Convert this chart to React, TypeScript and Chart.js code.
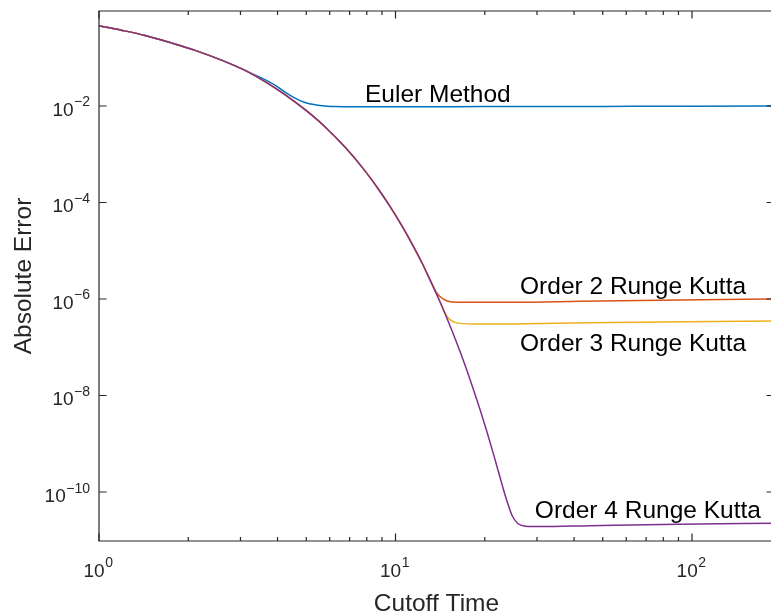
import React, { useEffect, useRef } from "react";
import { Chart, registerables } from "chart.js";

Chart.register(...registerables);

// ---- data ----
const sharedT = [1, 1.2, 1.43, 1.75, 2.11, 2.6, 3.11];
const sharedErr = [0.46, 0.368, 0.289, 0.203, 0.142, 0.088, 0.0545];

const eulerT = [3.5, 3.92, 4.25, 4.58, 4.95, 5.4, 5.78, 6.25, 7.5, 10, 20, 50, 100, 189];
const eulerErr = [0.039, 0.0272, 0.0191, 0.0146, 0.0118, 0.0105, 0.01, 0.0097, 0.0096, 0.0096, 0.0097, 0.0098, 0.0099, 0.01];

const steepT = [3.5, 3.92, 4.58, 5.2, 5.78, 6.8, 7.77, 8.7, 9.58, 10.5, 11.45, 12.3, 13.07];
const steepErr = [0.0365, 0.0238, 0.0122, 0.0066, 3.7e-3, 1.34e-3, 5.1e-4, 2.0e-4, 8.3e-5, 3.3e-5, 1.28e-5, 5.5e-6, 2.5e-6];

const rk2T = [13.8, 14.5, 15.3, 16.9, 25, 42, 91, 189];
const rk2Err = [1.32e-6, 9.9e-7, 8.8e-7, 8.55e-7, 8.55e-7, 8.96e-7, 9.53e-7, 1.0e-6];

const rk3T = [14.1, 14.9, 15.3, 16.1, 18.25, 25, 45, 189];
const rk3Err = [9.2e-7, 4.4e-7, 3.7e-7, 3.2e-7, 3.03e-7, 3.05e-7, 3.23e-7, 3.5e-7];

const rk4T = [14.0, 14.93, 16.12, 17.2, 18.25, 19.3, 20.35, 21.4, 22.5, 23.2, 23.8, 24.7, 25.9, 27.5, 31, 45, 90, 189];
const rk4Err = [9.9e-7, 3.9e-7, 1.2e-7, 4.1e-8, 1.42e-8, 5.0e-9, 1.75e-9, 6.1e-10, 2.05e-10, 1.05e-10, 6.3e-11, 3.3e-11, 2.2e-11, 1.95e-11, 1.92e-11, 2.0e-11, 2.15e-11, 2.25e-11];

const seriesNames = ["Euler Method", "Order 2 Runge Kutta", "Order 3 Runge Kutta", "Order 4 Runge Kutta"];
const seriesColors = ["#0072BD", "#D95319", "#EDB120", "#7E2F8E"];

// label anchors (data coords, left/baseline)
const labelT = [7.89, 26.3, 26.3, 29.5];
const labelErr = [0.0121, 1.24e-6, 8.36e-8, 2.89e-11];

const xMin = 1;
const xMax = 189;
const yMin = 9.65e-12;
const yMax = 0.93;
const xDecades = [0, 1, 2];
const yTickExponents = [-10, -8, -6, -4, -2];

const FONT = '"Liberation Sans", Arial, Helvetica, sans-serif';

function pts(t: number[], e: number[]) {
  return t.map((v, i) => ({ x: v, y: e[i] }));
}

const axesPlugin = {
  id: "matlabAxes",
  afterDatasetsDraw(chart: any) {
    const { ctx, chartArea: a, scales } = chart;
    const x = scales.x;
    const y = scales.y;
    ctx.save();
    ctx.strokeStyle = "#262626";
    ctx.lineWidth = 1.2;
    ctx.beginPath();
    ctx.rect(a.left, a.top, a.right - a.left, a.bottom - a.top);
    ctx.stroke();

    // x ticks
    ctx.beginPath();
    for (const d of xDecades) {
      for (let k = 1; k <= 9; k++) {
        const v = k * Math.pow(10, d);
        if (v < xMin || v > xMax) continue;
        const px = x.getPixelForValue(v);
        const len = k === 1 ? 7.5 : 4;
        ctx.moveTo(px, a.bottom);
        ctx.lineTo(px, a.bottom - len);
        ctx.moveTo(px, a.top);
        ctx.lineTo(px, a.top + len);
      }
    }
    for (const e of yTickExponents) {
      const py = y.getPixelForValue(Math.pow(10, e));
      ctx.moveTo(a.left, py);
      ctx.lineTo(a.left + 7.5, py);
      ctx.moveTo(a.right, py);
      ctx.lineTo(a.right - 7.5, py);
    }
    ctx.stroke();

    // tick labels with superscripts
    const baseFont = `19px ${FONT}`;
    const supFont = `14px ${FONT}`;
    ctx.fillStyle = "#262626";
    ctx.textBaseline = "alphabetic";
    ctx.textAlign = "left";
    const measure = (exp: string) => {
      ctx.font = baseFont;
      const wb = ctx.measureText("10").width;
      ctx.font = supFont;
      const ws = ctx.measureText(exp).width;
      return { wb, ws };
    };
    const drawLabel = (exp: string, left: number, baseline: number) => {
      const { wb } = measure(exp);
      ctx.font = baseFont;
      ctx.fillText("10", left, baseline);
      ctx.font = supFont;
      ctx.fillText(exp, left + wb + 0.5, baseline - 9.5);
    };
    for (const d of xDecades) {
      const exp = String(d);
      const px = x.getPixelForValue(Math.pow(10, d));
      const { wb, ws } = measure(exp);
      drawLabel(exp, px - (wb + ws) / 2 - 1, a.bottom + 35.7);
    }
    for (const e of yTickExponents) {
      const exp = "\u2212" + String(-e);
      const py = y.getPixelForValue(Math.pow(10, e));
      const { wb, ws } = measure(exp);
      drawLabel(exp, a.left - 9.5 - (wb + ws), py + 10);
    }

    // axis titles
    ctx.font = `24.5px ${FONT}`;
    ctx.textAlign = "center";
    ctx.fillText("Cutoff Time", (a.left + a.right) / 2, a.bottom + 70);
    ctx.save();
    ctx.translate(31, (a.top + a.bottom) / 2);
    ctx.rotate(-Math.PI / 2);
    ctx.fillText("Absolute Error", 0, 0);
    ctx.restore();

    // curve labels
    ctx.fillStyle = "#000000";
    ctx.textAlign = "left";
    seriesNames.forEach((name, i) => {
      ctx.fillText(name, x.getPixelForValue(labelT[i]), y.getPixelForValue(labelErr[i]));
    });
    ctx.restore();
  },
};

export default function App() {
  const canvasRef = useRef<HTMLCanvasElement | null>(null);

  useEffect(() => {
    const canvas = canvasRef.current;
    if (!canvas) return;
    const series = [
      pts([...sharedT, ...eulerT], [...sharedErr, ...eulerErr]),
      pts([...sharedT, ...steepT, ...rk2T], [...sharedErr, ...steepErr, ...rk2Err]),
      pts([...sharedT, ...steepT, ...rk3T], [...sharedErr, ...steepErr, ...rk3Err]),
      pts([...sharedT, ...steepT, ...rk4T], [...sharedErr, ...steepErr, ...rk4Err]),
    ];
    const chart = new Chart(canvas, {
      type: "line",
      data: {
        datasets: series.map((data, i) => ({
          label: seriesNames[i],
          data,
          borderColor: seriesColors[i],
          backgroundColor: seriesColors[i],
          borderWidth: 1.5,
          pointRadius: 0,
          fill: false,
          cubicInterpolationMode: "monotone" as const,
          order: 4 - i,
        })),
      },
      options: {
        responsive: false,
        animation: false,
        devicePixelRatio: 1,
        layout: { padding: { left: 99, top: 11, right: 6, bottom: 73 } },
        plugins: { legend: { display: false }, tooltip: { enabled: false }, title: { display: false } },
        scales: {
          x: { type: "logarithmic", min: xMin, max: xMax, display: false },
          y: { type: "logarithmic", min: yMin, max: yMax, display: false },
        },
      },
      plugins: [axesPlugin],
    });
    return () => chart.destroy();
  }, []);

  return (
    <div style={{ position: "fixed", left: 0, top: 0, width: 771, height: 614, overflow: "hidden", background: "#fff" }}>
      <canvas ref={canvasRef} width={780} height={614} style={{ width: 780, height: 614, display: "block" }} />
    </div>
  );
}
